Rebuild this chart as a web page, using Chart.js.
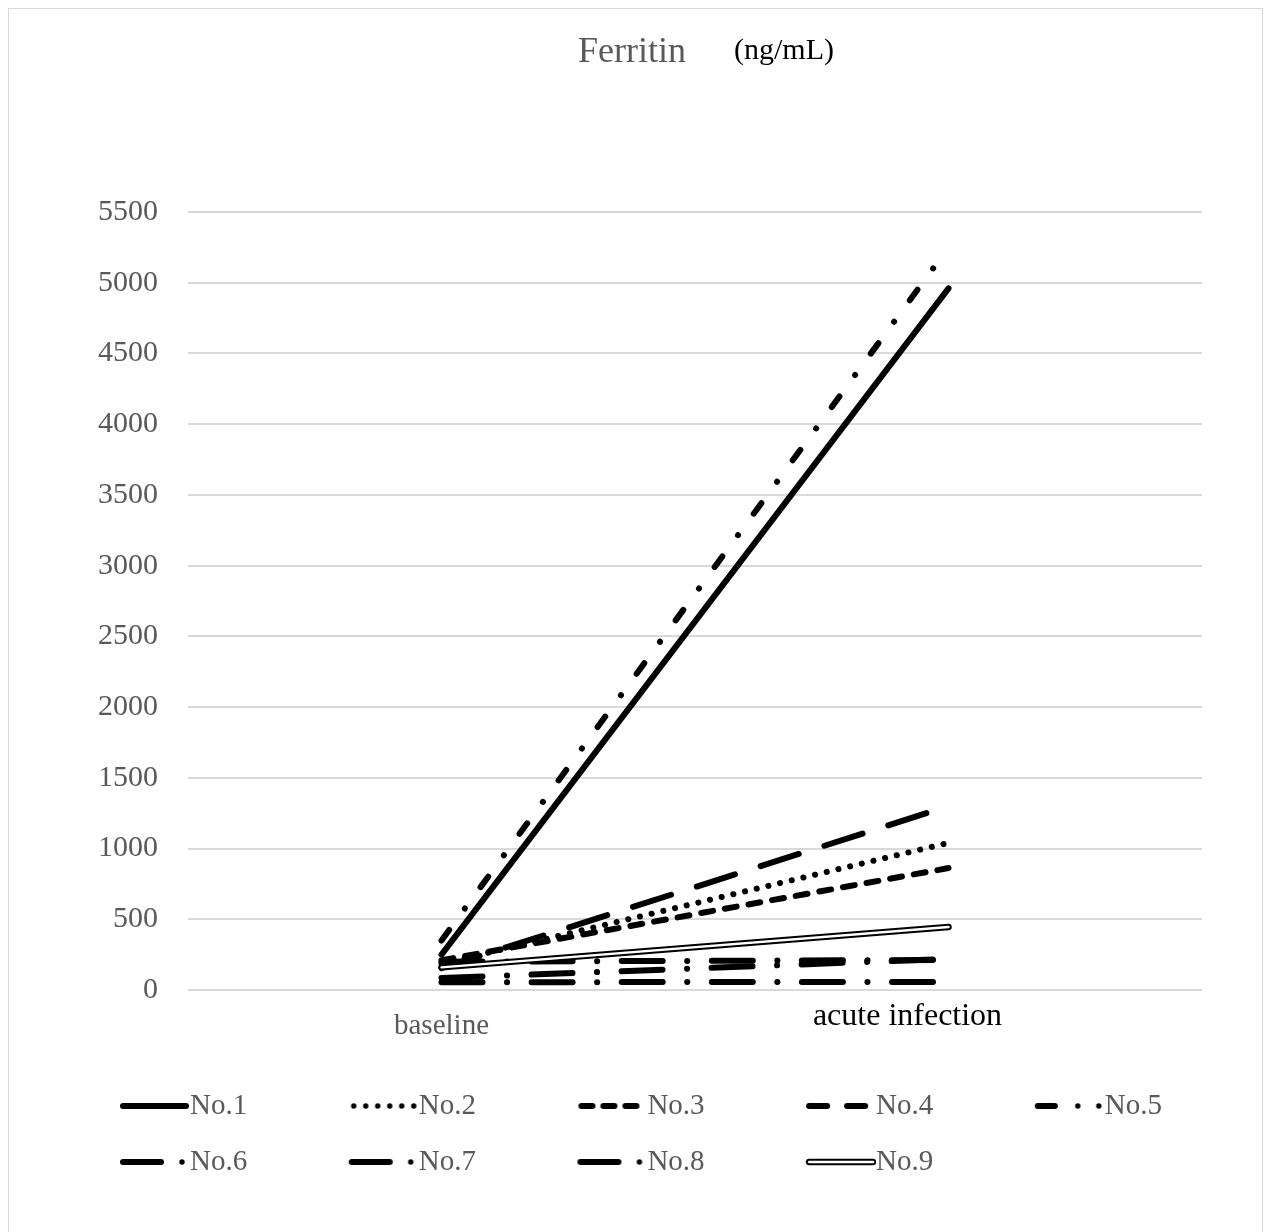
<!DOCTYPE html>
<html><head><meta charset="utf-8">
<script src="https://cdn.jsdelivr.net/npm/chart.js@4.4.0/dist/chart.umd.min.js"></script>
<style>
html,body{margin:0;padding:0;background:#fff;overflow:hidden;width:1269px;height:1232px;}
#frame{position:absolute;left:8px;top:8px;width:1255px;height:1260px;border:1px solid #d9d9d9;box-sizing:border-box;}
#wrap{position:absolute;left:9px;top:9px;width:1300px;height:1223px;}
</style></head><body>
<div id="frame"></div>
<div id="wrap"><canvas id="c"></canvas></div>
<script>
// ---- data ----
const categories = ['baseline', 'acute infection'];
const seriesNames = ['No.1','No.2','No.3','No.4','No.5','No.6','No.7','No.8','No.9'];
const no1 = [250, 4960];
const no2 = [185, 1040];
const no3 = [210, 862];
const no4 = [155, 1300];
const no5 = [350, 5250];
const no6 = [200, 212];
const no7 = [85, 220];
const no8 = [55, 57];
const no9 = [160, 445];
const yTicks = [0, 500, 1000, 1500, 2000, 2500, 3000, 3500, 4000, 4500, 5000, 5500];
const titleText = 'Ferritin';
const unitText = '(ng/mL)';

const FONT = "'Liberation Serif', 'Times New Roman', serif";
const seriesData = [no1, no2, no3, no4, no5, no6, no7, no8, no9];
const dashes = [
  [], [0.1, 11.9], [12, 12], [40, 27], [13, 26.5, 0.1, 26.5],
  [41, 24.5, 0.1, 24.5], [41, 24.5, 0.1, 24.5], [41, 24.5, 0.1, 24.5], []
];

const datasets = seriesData.map((d, i) => ({
  label: seriesNames[i],
  data: d,
  borderColor: '#000',
  backgroundColor: '#000',
  borderWidth: i === 8 ? 6.5 : 6,
  borderDash: dashes[i],
  borderCapStyle: 'round',
  borderJoinStyle: 'round',
  pointRadius: 0,
  fill: false,
  tension: 0
}));
// white inner stroke for the double line of No.9 (drawn on top)
datasets.push({
  label: '',
  data: no9,
  borderColor: '#fff',
  borderWidth: 2.4,
  borderCapStyle: 'round',
  pointRadius: 0,
  fill: false,
  order: -1
});

// ---- legend sample images ----
function seg(g, x1, x2, w) {
  g.lineCap = 'round'; g.lineWidth = w;
  g.beginPath(); g.moveTo(x1, 0); g.lineTo(x2, 0); g.stroke();
}
function dot(g, x, r) { g.beginPath(); g.arc(x, 0, r, 0, Math.PI * 2); g.fill(); }
function makeSample(fn) {
  const c = document.createElement('canvas');
  c.width = 101; c.height = 12;
  const g = c.getContext('2d');
  g.strokeStyle = '#000'; g.fillStyle = '#000';
  g.translate(31, 6);
  fn(g);
  return c;
}
const samples = [
  g => seg(g, 3, 66, 6),
  g => { [5, 17, 29, 41, 53, 65].forEach(x => dot(g, x, 2.7)); },
  g => { seg(g, 4, 15, 6); seg(g, 26, 37, 6); seg(g, 48, 59, 6); },
  g => { seg(g, 3, 21, 6); seg(g, 41, 59, 6); },
  g => { seg(g, 3, 20, 6); dot(g, 43, 2.7); dot(g, 64, 2.7); },
  g => { seg(g, 3, 41, 6); dot(g, 62, 2.7); },
  g => { seg(g, 3, 41, 6); dot(g, 62, 2.7); },
  g => { seg(g, 3, 41, 6); dot(g, 62, 2.7); },
  g => { g.strokeStyle = '#000'; seg(g, 3, 67, 6.5); g.strokeStyle = '#fff'; seg(g, 3, 67, 2.4); }
].map(makeSample);

const textPlugin = {
  id: 'texts',
  afterDraw(chart) {
    const ctx = chart.ctx;
    ctx.save();
    ctx.textBaseline = 'alphabetic';
    ctx.textAlign = 'left';
    ctx.fillStyle = '#595959';
    ctx.font = '36px ' + FONT;
    ctx.fillText(titleText, 569, 53);
    ctx.fillStyle = '#000';
    ctx.font = '30px ' + FONT;
    ctx.fillText(unitText, 725, 50);
    const xs = chart.scales.x;
    ctx.textAlign = 'center';
    ctx.font = '32px ' + FONT;
    ctx.fillText(categories[1], xs.getPixelForValue(1) - 41, 1016);
    ctx.restore();
  }
};

new Chart(document.getElementById('c'), {
  type: 'line',
  data: { labels: categories, datasets },
  plugins: [textPlugin],
  options: {
    responsive: true,
    maintainAspectRatio: false,
    animation: false,
    layout: { padding: { left: 67.5, right: 0, top: 203, bottom: 45.5 } },
    plugins: {
      title: { display: false },
      tooltip: { enabled: false },
      legend: {
        position: 'bottom',
        align: 'start',
        labels: {
          usePointStyle: true,
          pointStyleWidth: 72,
          padding: 27,
          color: '#595959',
          font: { family: FONT, size: 29 },
          filter: (item) => item.datasetIndex < 9,
          generateLabels: (chart) => {
            const items = Chart.defaults.plugins.legend.labels.generateLabels(chart);
            items.forEach(it => {
              if (it.datasetIndex < 9) {
                it.text = it.text + '        ';
                it.pointStyle = samples[it.datasetIndex];
              }
            });
            return items;
          }
        }
      }
    },
    scales: {
      x: {
        type: 'category',
        offset: true,
        grid: { display: false },
        border: { display: false },
        ticks: {
          padding: 11,
          color: '#595959',
          font: { family: FONT, size: 29 },
          maxRotation: 0,
          callback: (v, i) => (i === 0 ? categories[0] : '')
        },
        afterFit: (s) => { s.height = 74.5; }
      },
      y: {
        min: 0,
        max: 5500,
        afterBuildTicks: (s) => { s.ticks = yTicks.map(v => ({ value: v })); },
        grid: { color: '#d9d9d9', lineWidth: 2, drawTicks: false },
        border: { display: false },
        ticks: {
          padding: 30,
          color: '#595959',
          font: { family: FONT, size: 30 },
          callback: (v) => String(v)
        },
        afterFit: (s) => { s.width = 111.5; }
      },
      yR: {
        type: 'linear',
        position: 'right',
        display: true,
        grid: { display: false, drawTicks: false },
        border: { display: false },
        ticks: { display: false },
        afterFit: (s) => { s.width = 107; }
      }
    }
  }
});
</script>
</body></html>
